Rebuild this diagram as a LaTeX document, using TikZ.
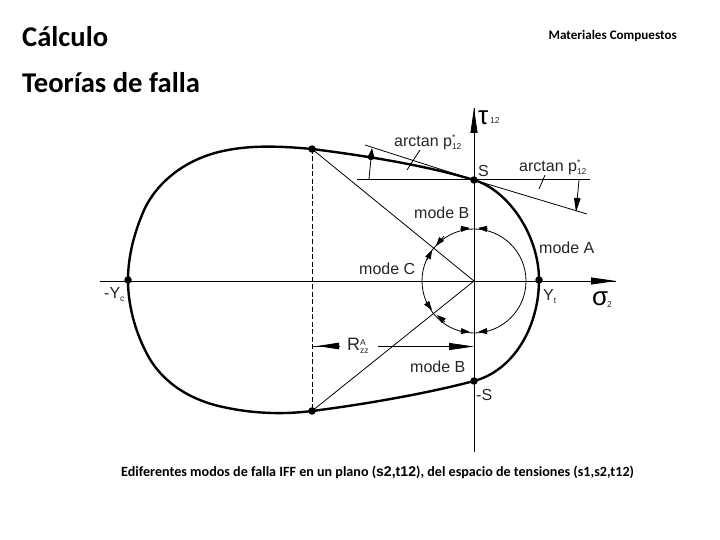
\documentclass[tikz,border=0pt]{standalone}
\usepackage{fontspec}
\setmainfont{Carlito}
\newfontfamily\lab{Liberation Sans}
\usetikzlibrary{arrows.meta}
\newcommand{\tinyscr}[1]{{\fontsize{8.5}{8.5}\selectfont #1}}
\newcommand{\subsup}[2]{\rlap{\raisebox{5.5pt}{\tinyscr{#1}}}\raisebox{-3pt}{\tinyscr{#2}}}
\newcommand{\subonly}[1]{\raisebox{-3pt}{\tinyscr{#1}}}
\tikzset{
  thin line/.style={line width=0.8pt,black},
  curve line/.style={line width=2.4pt,black,line join=round},
  tip line/.style={line width=0.8pt,-{Triangle[length=9pt,width=6pt]},shorten >=0pt},
  long tip/.style={line width=0.8pt,-{Triangle[length=25pt,width=7pt]}},
  pt/.style={circle,fill=black,inner sep=0pt,minimum size=7.5pt},
  lbl/.style={font=\lab\fontsize{16}{16}\selectfont,inner sep=0pt,text=black!85,anchor=west},
  small/.style={font=\lab\fontsize{8.5}{8.5}\selectfont,inner sep=0pt,text=black!85,anchor=west},
  greek/.style={font=\lab\fontsize{26}{26}\selectfont,inner sep=0pt,anchor=west},
  head/.style={font=\bfseries\fontsize{28.6}{28.6}\selectfont,inner sep=0pt,anchor=west},
}
\begin{document}
\begin{tikzpicture}[x=1pt,y=-1pt]
\useasboundingbox (0,0) rectangle (720,540);
\fill[white] (0,0) rectangle (720,540);
\node[head] (t1) at (22,37) {Cálculo};
\node[head] (t2) at (22,83) {Teorías de falla};
\node[font=\bfseries\fontsize{13.1}{13.1}\selectfont,inner sep=0pt,anchor=east] (t3) at (677,36) {Materiales Compuestos};
\coordinate (O) at (474,281);
\coordinate (axT) at (474,108);
\coordinate (axB) at (474,452);
\coordinate (axL) at (100,281);
\coordinate (axR) at (616,281);
\node[pt] (S) at (474,180) {};
\node[pt] (mS) at (474,381) {};
\node[pt] (Yt) at (539,280) {};
\node[pt] (Yc) at (128,280) {};
\node[pt] (TL) at (312,149) {};
\node[pt] (BL) at (312,411) {};
\node[pt,minimum size=6.5pt] (P) at (371,157) {};
\draw[thin line] (axL) -- (axR);
\draw[thin line] (axB) -- (axT);
\draw[long tip] (474,133) -- (axT);
\draw[long tip] (590,281) -- (axR);
\draw[thin line,dash pattern=on 5pt off 2.5pt] (TL.center) -- (BL.center);
\draw[thin line] (TL.center) -- (O);
\draw[thin line] (BL.center) -- (O);
\draw[curve line] (TL.center) .. controls (280,146) and (250,145) .. (223,151)
  .. controls (190,158) and (160,178) .. (145,208)
  .. controls (135,230) and (128,255) .. (Yc.center)
  .. controls (128,305) and (135,330) .. (145,350)
  .. controls (160,382) and (190,400) .. (223,407)
  .. controls (250,413) and (280,415) .. (BL.center);
\draw[curve line] (TL.center) .. controls (360,155) and (425,165) .. (S.center)
  .. controls (508,190) and (539,235) .. (Yt.center)
  .. controls (539,325) and (515,370) .. (mS.center)
  .. controls (425,394) and (360,405) .. (BL.center);
\draw[thin line] (O) circle[radius=52];
% circle arrows
\draw[tip line] (460,229) -- (470,228);
\draw[tip line] (488,229) -- (478,228);
\draw[tip line] (444,236) -- (436,246);
\draw[tip line] (427,260) -- (432,250);
\draw[tip line] (426,302) -- (432,310);
\draw[tip line] (445,322) -- (437,315);
\draw[tip line] (460,331) -- (470,332);
\draw[tip line] (488,331) -- (478,332);
% tangents
\coordinate (hL) at (357,179);
\coordinate (hR) at (590,179);
\coordinate (tL) at (365,145);
\coordinate (tR) at (587,214);
\draw[thin line] (hL) -- (hR);
\draw[thin line] (tL) -- (S.center);
\draw[thin line] (S.center) -- (tR);
\draw[tip line] (369,179) -- (372,148);
\draw[line width=0.8pt,-{Triangle[length=14pt,width=6.5pt]}] (579,180) -- (576,212);
\draw[thin line] (420,150) -- (407,170);
\draw[thin line] (545,175) -- (539,189);
% R arrows
\draw[thin line] (312,346) -- (338,346);
\draw[line width=0.8pt,-{Triangle[length=22pt,width=6.5pt]}] (339,346) -- (317,346);
\draw[long tip] (378,346.5) -- (474,346.5);
% labels
\node[lbl] (a1) at (394,142) {arctan p\subsup{*}{12}};
\node[lbl] (a2) at (519,167) {arctan p\subsup{*}{12}};
\node[lbl] (lS) at (478,171) {S};
\node[lbl] (mb1) at (414,213) {mode B};
\node[lbl] (ma) at (539,248) {mode A};
\node[lbl] (mc) at (359,269) {mode C};
\node[lbl] (mb2) at (410,367) {mode B};
\node[lbl] (yt) at (543,297) {Y\subonly{t}};
\node[lbl] (yc) at (104,295) {-Y\subonly{c}};
\node[lbl] (ms) at (476,395) {-S};
\node[lbl,font=\lab\fontsize{18}{18}\selectfont] (rr) at (347,346) {R\subsup{A}{zz}};
\node[greek] (tau) at (478,118) {τ};
\node[small] (tau2) at (490,121) {12};
\node[greek] (sig) at (592,299) {σ};
\node[small] (sig2) at (607,305) {2};
\node[inner sep=0pt,anchor=west,font=\bfseries\fontsize{14.1}{14.1}\selectfont] (cap) at (121,472) {Ediferentes modos de falla IFF en un plano ({\lab s2,t12}), del espacio de tensiones (s1,s2,t12)};
\end{tikzpicture}
\end{document}
